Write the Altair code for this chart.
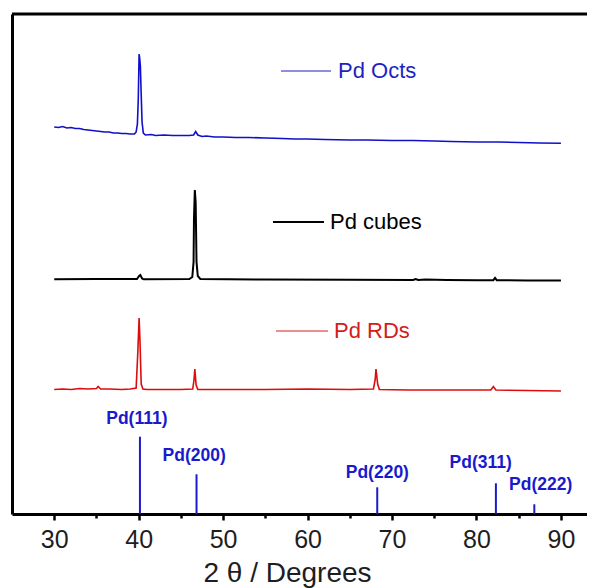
import altair as alt
import pandas as pd

# ---- data (2θ in degrees, offset intensity in arbitrary units) ----
oct_tt = [30.0, 30.5, 31.0, 31.5, 32.0, 32.5, 33.0, 33.5, 34.0, 34.5,
          35.0, 35.5, 36.0, 36.5, 37.0, 37.5, 38.0, 38.5, 39.0, 39.5, 39.7, 39.85, 39.95,
          40.05, 40.12, 40.2, 40.3, 40.4, 40.55, 40.8, 41.5, 42.0, 43.0,
          44.0, 45.0, 46.0, 46.5, 46.75, 47.0, 47.5, 48.0, 49.0, 50.0, 51.5,
          53.0, 55.0, 57.0, 58.5, 60.0, 62.0, 65.0, 67.0, 70.0, 72.5, 75.0, 77.0, 80.0,
          82.5, 85.0, 87.5, 90.0]
oct_i = [387, 386.5, 387.5, 386, 386.5, 385.5, 385.5, 384.5, 384, 383.5,
         383, 382.5, 382, 382, 381, 381, 380.5, 380.5, 380, 380, 382, 390, 414,
         460, 456, 448, 419, 392, 381, 379, 379.5, 378.5, 379,
         378.5, 378.5, 378.5, 379, 382.5, 379, 377.5, 378, 377, 377, 376.5,
         376.5, 376, 375.5, 375, 375, 374.5, 374, 374, 373.5, 373.5, 373, 372.5, 372,
         372, 371.5, 371, 370.7]

cube_tt = [30.0, 35.0, 39.8, 40.05, 40.2, 40.4, 40.6, 46.0, 46.35, 46.5, 46.55, 46.65,
           46.75, 46.85, 47.0, 47.3, 55.0, 65.0, 72.5, 72.8, 73.1, 74.0, 76.5, 80.0,
           82.0, 82.2, 82.4, 86.0, 90.0]
cube_i = [234.7, 235, 235, 238, 239, 235.5, 234.7, 235, 237, 252, 296, 324,
          311, 252, 238, 235, 234.5, 234.3, 234, 235, 234, 234.5, 234, 233.8,
          233.8, 236, 233.8, 233.6, 233.5]

rd_tt = [30.0, 31.0, 32.0, 33.0, 34.0, 35.0, 35.2, 35.5, 36.5, 38.0, 39.0, 39.7, 39.9,
         40.05, 40.15, 40.3, 40.5, 41.0, 43.0, 45.0, 46.4, 46.55, 46.65, 46.8, 47.0,
         50.0, 55.0, 60.0, 65.0, 67.8, 68.0, 68.1, 68.3, 68.5, 72.0, 78.0, 81.7, 82.0,
         82.3, 86.0, 90.0]
rd_i = [124.5, 125, 124.5, 125.5, 125, 125.5, 127.5, 125, 125, 124.5, 125, 126, 162,
        196, 174, 130, 125, 124.5, 124.5, 124.5, 125, 134, 145, 129, 124.5,
        124.5, 124.5, 125, 124.5, 125, 134, 145, 130, 124.5, 124, 124, 124, 127.5,
        124, 123.5, 123]

ref_tt = [40.15, 46.85, 68.25, 82.3, 86.85]
ref_i = [77.3, 39.7, 26.7, 30.7, 9.7]
ref_labels = ["Pd(111)", "Pd(200)", "Pd(220)", "Pd(311)", "Pd(222)"]
label_tt = [39.79, 46.57, 68.26, 80.5, 87.6]
label_i = [94.7, 58.0, 41.3, 51.3, 29.0]

x_major = [30, 40, 50, 60, 70, 80, 90]
x_minor = [35, 45, 55, 65, 75, 85]

BLUE = "#1010c8"
RED = "#dc0c0c"
REFBLUE = "#1a1acc"
FONT = "Liberation Sans"

W, H = 575, 500
xs = alt.Scale(domain=[25, 25 + W / 8.445], nice=False, zero=False)
ys = alt.Scale(domain=[0, 500], nice=False, zero=False)

oct_df = pd.DataFrame({"tt": oct_tt, "i": oct_i})
cube_df = pd.DataFrame({"tt": cube_tt, "i": cube_i})
rd_df = pd.DataFrame({"tt": rd_tt, "i": rd_i})
ref_df = pd.DataFrame({"tt": ref_tt, "i": ref_i, "zero": [0] * len(ref_tt)})
lab_df = pd.DataFrame({"tt": label_tt, "i": label_i, "label": ref_labels})

xaxis = alt.Axis(
    values=x_major + x_minor,
    labelExpr="datum.value % 10 === 0 ? datum.label : ''",
    tickSize={"condition": {"test": "datum.value % 10 === 0", "value": 6}, "value": 4},
    tickWidth=2.5, tickColor="black",
    domainWidth=3, domainColor="black",
    labelFont=FONT, labelFontSize=25, labelColor="#1e1e1e", labelPadding=7,
    labelFlush=False, labelOverlap=False,
    title="2 θ / Degrees", titleFont=FONT, titleFontSize=28, titleFontWeight="normal",
    titleColor="#1e1e1e", titleX=275, titleY=67, titleAlign="center",
    titleBaseline="alphabetic", grid=False,
)
yaxis = alt.Axis(domainWidth=3, domainColor="black", ticks=False, labels=False,
                 title=None, grid=False)

octs = alt.Chart(oct_df).mark_line(color=BLUE, strokeWidth=1.6).encode(
    x=alt.X("tt:Q", scale=xs, axis=xaxis),
    y=alt.Y("i:Q", scale=ys, axis=yaxis),
)
cubes = alt.Chart(cube_df).mark_line(color="black", strokeWidth=2).encode(
    x=alt.X("tt:Q", scale=xs), y=alt.Y("i:Q", scale=ys))
rds = alt.Chart(rd_df).mark_line(color=RED, strokeWidth=1.6).encode(
    x=alt.X("tt:Q", scale=xs), y=alt.Y("i:Q", scale=ys))

sticks = alt.Chart(ref_df).mark_rule(color=REFBLUE, strokeWidth=2).encode(
    x=alt.X("tt:Q", scale=xs), y=alt.Y("zero:Q", scale=ys), y2="i:Q")
stick_text = alt.Chart(lab_df).mark_text(
    color=REFBLUE, font=FONT, fontSize=17.5, fontWeight="bold", baseline="middle",
    align="center").encode(
    x=alt.X("tt:Q", scale=xs), y=alt.Y("i:Q", scale=ys), text="label:N")

# top frame line
top = alt.Chart(pd.DataFrame({"a": [0]})).mark_rule(color="black", strokeWidth=3).encode(
    x=alt.value(0), x2=alt.value(W), y=alt.value(0))

# inline legend entries (pixel positions inside the plot)
def legend_item(name, color, x0, x1, y, tx, lw):
    d = pd.DataFrame({"name": [name]})
    line = alt.Chart(d).mark_rule(color=color, strokeWidth=lw).encode(
        x=alt.value(x0), x2=alt.value(x1), y=alt.value(y))
    txt = alt.Chart(d).mark_text(color=color, font=FONT, fontSize=22, align="left",
                                  baseline="middle").encode(
        x=alt.value(tx), y=alt.value(y), text="name:N")
    return line + txt

leg1 = legend_item("Pd Octs", "#1f1fc4", 269, 319, 57, 326, 1)
leg2 = legend_item("Pd cubes", "black", 261, 312, 208, 318, 2)
leg3 = legend_item("Pd RDs", "#d41c1c", 264, 316, 317, 322, 1)

chart = alt.layer(octs, cubes, rds, sticks, stick_text, top, leg1, leg2, leg3).properties(
    width=W, height=H,
    padding={"left": 4, "top": 6, "right": 0, "bottom": 74},
    autosize=alt.AutoSizeParams(type="none"),
    background="white",
).configure_view(stroke=None)

chart.save("out.html", embed_options={"renderer": "svg", "actions": False})
